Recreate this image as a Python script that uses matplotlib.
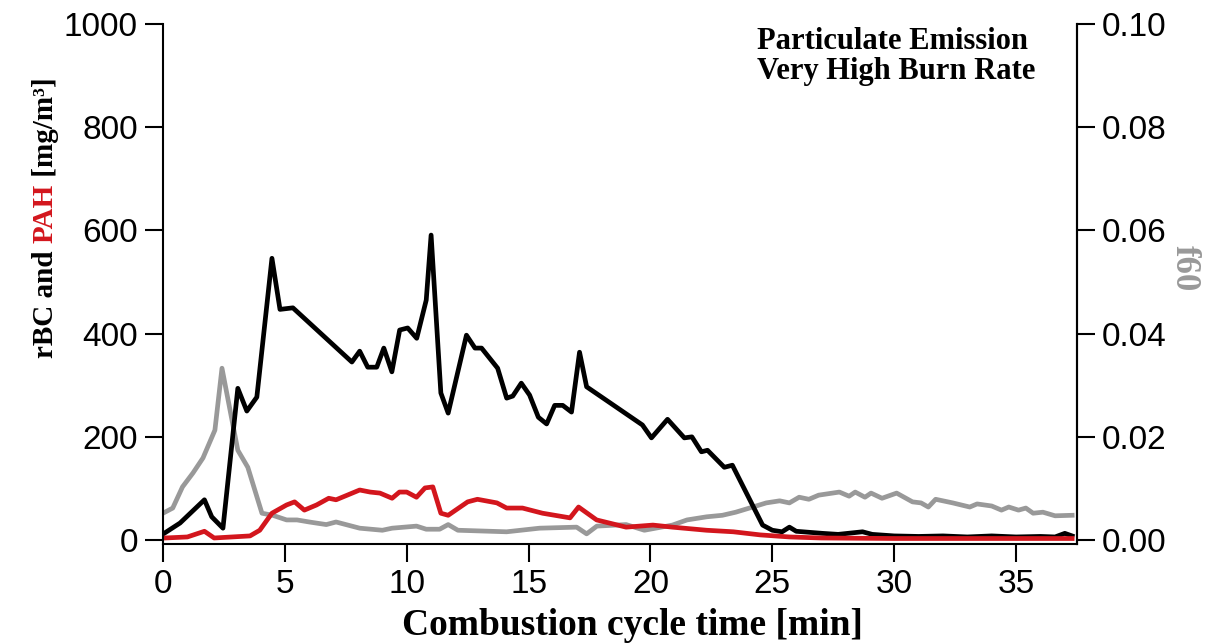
import matplotlib
matplotlib.use("Agg")
import matplotlib.pyplot as plt

# rBC (black)
t_bc = [0.08, 0.7, 1.7, 2.0, 2.46, 3.07, 3.44, 3.85, 4.47, 4.8, 5.33, 7.75, 8.07, 8.4,
        8.77, 9.06, 9.39, 9.71, 10.04, 10.41, 10.8, 11.0, 11.4, 11.7, 12.45, 12.8,
        13.07, 13.73, 14.1, 14.35, 14.7, 15.04, 15.4, 15.74, 16.07, 16.4, 16.76, 17.09,
        17.38, 19.67, 20.04, 20.7, 21.39, 21.7, 22.09, 22.34, 23.03, 23.36, 24.6, 25.0,
        25.4, 25.7, 25.98, 27.05, 27.7, 28.7, 29.1, 30.0, 31.0, 32.0, 33.0, 34.0, 35.0,
        36.0, 36.6, 37.0, 37.3]
rbc = [14, 33, 78, 45, 23, 294, 250, 277, 546, 447, 450, 345, 366, 335,
       335, 372, 326, 407, 411, 391, 465, 591, 285, 246, 397, 372,
       372, 333, 275, 279, 304, 281, 238, 225, 261, 261, 248, 364,
       297, 223, 198, 234, 198, 200, 171, 174, 141, 145, 29, 19,
       16, 25, 17, 13, 11, 16, 11, 8, 7, 8, 6, 8, 6,
       7, 6, 13, 8]

# PAH (red)
t_pah = [0.08, 1.0, 1.7, 2.1, 3.57, 3.97, 4.47, 5.07, 5.4, 5.8, 6.3, 6.8, 7.1, 8.07, 8.5,
         8.9, 9.4, 9.7, 10.0, 10.4, 10.75, 11.07, 11.4, 11.7, 12.5, 12.9, 13.7, 14.1,
         14.75, 15.57, 16.7, 17.05, 17.79, 19.0, 20.1, 20.9, 22.3, 23.4, 24.5, 25.7,
         27.0, 30.0, 33.0, 37.3]
pah = [4, 6, 17, 4, 8, 19, 52, 68, 74, 58, 68, 81, 78, 97, 93,
       91, 81, 93, 93, 83, 101, 103, 52, 48, 74, 79, 72, 62,
       62, 52, 43, 64, 39, 25, 29, 25, 19, 16, 10, 6,
       4, 3, 3, 3]

# f60 (grey, right axis)
t_f60 = [0.08, 0.4, 0.8, 1.23, 1.64, 2.13, 2.42, 2.75, 3.07, 3.48, 4.06, 4.5, 5.07, 5.5,
         6.0, 6.7, 7.1, 8.07, 9.0, 9.4, 10.4, 10.8, 11.35, 11.7, 12.1, 14.1, 15.45,
         16.97, 17.38, 17.8, 19.0, 19.75, 20.9, 21.5, 22.3, 22.95, 23.5, 24.06, 24.75,
         25.3, 25.7, 26.1, 26.5, 26.9, 27.75, 28.15, 28.4, 28.8, 29.05, 29.5, 30.1,
         30.75, 31.1, 31.4, 31.7, 32.4, 33.1, 33.4, 34.0, 34.4, 34.7, 35.1, 35.4, 35.7,
         36.1, 36.6, 37.3]
f60 = [0.0054, 0.0062, 0.0103, 0.013, 0.0159, 0.0213, 0.0333, 0.0252, 0.0174, 0.0141,
       0.0052, 0.0048, 0.0039, 0.0039, 0.0035, 0.003, 0.0035, 0.0023, 0.0019, 0.0023,
       0.0027, 0.0021, 0.0021, 0.003, 0.0019, 0.0016, 0.0023, 0.0025, 0.0012, 0.0027,
       0.003, 0.0019, 0.0029, 0.0039, 0.0045, 0.0048, 0.0054, 0.0062, 0.0072, 0.0076,
       0.0072, 0.0083, 0.0079, 0.0087, 0.0093, 0.0085, 0.0093, 0.0083, 0.0091, 0.0081,
       0.0091, 0.0074, 0.0072, 0.0064, 0.0079, 0.0072, 0.0064, 0.007, 0.0066, 0.0058,
       0.0064, 0.0058, 0.0062, 0.0052, 0.0054, 0.0047, 0.0048]

RED = "#d3161d"
GREY = "#999999"
sans = ["Liberation Sans", "DejaVu Sans"]
serif = ["Liberation Serif", "DejaVu Serif"]

fig = plt.figure(figsize=(12.2, 6.44), dpi=100)
ax = fig.add_axes([0.1336, 0.155, 0.7492, 0.8077])
ax2 = ax.twinx()
ax.set_zorder(2)
ax2.set_zorder(1)
ax.patch.set_visible(False)

ax2.plot(t_f60, f60, color=GREY, lw=3.4)
ax.plot(t_bc, rbc, color="black", lw=3.4)
ax.plot(t_pah, pah, color=RED, lw=3.4)

ymin = -8
ax.set_xlim(0, 37.5)
ax.set_ylim(ymin, 1000)
ax2.set_ylim(ymin / 10000, 0.1)
ax.set_xticks(range(0, 36, 5))
ax.set_yticks(range(0, 1001, 200))
ax2.set_yticks([0, 0.02, 0.04, 0.06, 0.08, 0.10])
ax2.set_yticklabels(["0.00", "0.02", "0.04", "0.06", "0.08", "0.10"])

for a in (ax, ax2):
    a.spines["top"].set_visible(False)
    for s in a.spines.values():
        s.set_linewidth(1.5)
    a.tick_params(direction="out", length=13, width=1.5, labelsize=24, pad=5)
    for lab in a.get_xticklabels() + a.get_yticklabels():
        lab.set_family(sans)
ax2.spines["left"].set_visible(False)
ax2.spines["bottom"].set_visible(False)

ax.set_xlabel("Combustion cycle time [min]", family=serif, fontweight="bold",
              fontsize=27)
ax.xaxis.set_label_coords(0.514, -0.122)
ax.xaxis.label.set_va("top")

fig.text(0.6205, 0.958, "Particulate Emission\nVery High Burn Rate", family=serif,
         fontweight="bold", fontsize=22, ha="left", va="top", linespacing=1.05)

fig.text(0.971, 0.584, "f60", family=serif, fontweight="bold", fontsize=25,
         color=GREY, rotation=270, ha="center", va="center")

# multicoloured y label, stacked bottom to top
fig.canvas.draw()
r = fig.canvas.get_renderer()
y = 0.444
for part, col in [("rBC and ", "black"), ("PAH", RED), (" [mg/m³]", "black")]:
    txt = fig.text(0.037, y, part, family=serif, fontweight="bold", fontsize=21,
                   color=col, rotation=90, ha="center", va="bottom")
    bb = txt.get_window_extent(renderer=r)
    y += bb.height / fig.bbox.height

fig.savefig("out.png", dpi=100)
